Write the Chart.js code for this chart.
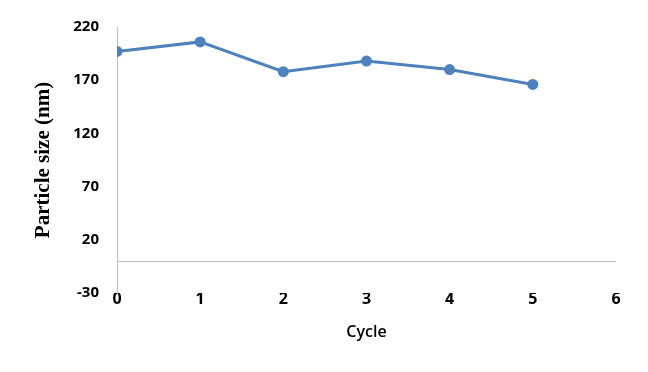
<!DOCTYPE html>
<html>
<head>
<meta charset="utf-8">
<script src="https://cdn.jsdelivr.net/npm/chart.js@4"></script>
<style>
  html, body { margin: 0; padding: 0; background: #fff; }
  #wrap { width: 648px; height: 372px; }
</style>
</head>
<body>
<div id="wrap"><canvas id="line-chart"></canvas></div>
<script>
// chart data
var cycles = [0, 1, 2, 3, 4, 5]
var particleSize = [197, 206, 178, 188, 180, 166]
var yTicks = [-30, 20, 70, 120, 170, 220]

var points = cycles.map(function (c, i) { return { x: c, y: particleSize[i] } })

// grey line across the plot at y = 0 (Excel puts the category axis there)
var zeroLine = {
    id: 'zeroLine',
    beforeDatasetsDraw: function (chart) {
        var ctx = chart.ctx
        var y = chart.scales.y.getPixelForValue(0)
        var area = chart.chartArea
        ctx.save()
        ctx.strokeStyle = '#bfbfbf'
        ctx.lineWidth = 1
        ctx.beginPath()
        ctx.moveTo(area.left, Math.round(y) + 0.5)
        ctx.lineTo(area.right, Math.round(y) + 0.5)
        ctx.stroke()
        ctx.restore()
    }
}

var lineChart = document.getElementById('line-chart').getContext('2d')

new Chart(lineChart, {
    type: 'line',
    data: {
        datasets: [{
            label: 'Particle size',
            data: points,
            borderColor: '#4f81bd',
            backgroundColor: '#4f81bd',
            borderWidth: 3,
            pointRadius: 5.5,
            pointHoverRadius: 5.5,
            pointBorderWidth: 0,
            tension: 0
        }]
    },
    options: {
        responsive: true,
        maintainAspectRatio: false,
        animation: false,
        layout: { padding: { left: 0, right: 32, top: 26, bottom: 0 } },
        plugins: {
            legend: { display: false },
            tooltip: { enabled: false }
        },
        scales: {
            x: {
                type: 'linear',
                min: 0,
                max: 6,
                afterFit: function (scale) { scale.height = 79 },
                grid: { display: false, drawTicks: false },
                border: { display: false },
                ticks: {
                    stepSize: 1,
                    padding: -3,
                    color: '#000',
                    font: { family: 'Open Sans', size: 16, weight: 'bold' }
                },
                title: {
                    display: true,
                    text: 'Cycle',
                    color: '#000',
                    padding: { top: 0, bottom: 30 },
                    font: { family: 'Open Sans', size: 16, weight: '600' }
                }
            },
            y: {
                min: -30,
                max: 220,
                afterFit: function (scale) { scale.width = 117 },
                afterBuildTicks: function (scale) {
                    scale.ticks = yTicks.map(function (v) { return { value: v } })
                },
                grid: { display: false, drawTicks: false },
                border: { display: true, color: '#bfbfbf', width: 1 },
                ticks: {
                    padding: 18,
                    color: '#000',
                    font: { family: 'Open Sans', size: 15, weight: 'bold' }
                },
                title: {
                    display: true,
                    text: 'Particle size (nm)',
                    color: '#000',
                    padding: { top: 31, bottom: 0 },
                    font: { family: 'Liberation Serif', size: 21, weight: 'bold' }
                }
            }
        }
    },
    plugins: [zeroLine]
})
</script>
</body>
</html>
